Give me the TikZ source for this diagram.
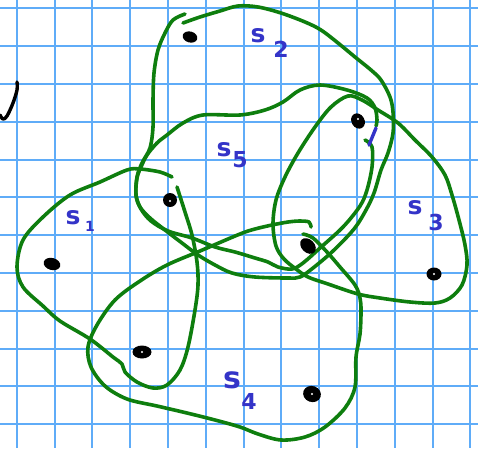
\documentclass[tikz,border=0pt]{standalone}
\usepackage{fontspec}
\newfontfamily\handfont{DejaVu Sans}
\definecolor{gridblue}{RGB}{95,172,248}
\definecolor{pengreen}{RGB}{14,126,14}
\definecolor{inkblue}{RGB}{52,52,200}
\begin{document}
\begin{tikzpicture}[x=1pt,y=-1pt,
  gridline/.style={gridblue,line width=2pt},
  hedge/.style={pengreen,line width=3.6pt,line cap=round,line join=round},
  inkline/.style={line width=3.4pt,line cap=round,line join=round},
  slab/.style={text=inkblue,font=\handfont\bfseries\fontsize{25}{25}\selectfont,inner sep=0pt},
  dlab/.style={text=inkblue,font=\handfont\bfseries\fontsize{22}{22}\selectfont,inner sep=0pt}]
\fill[white] (0,0) rectangle (478,448);
\useasboundingbox (0,0) rectangle (478,448);
% grid paper
\foreach \k in {0,...,12} \draw[gridline] ({16.7+37.8*\k},0) -- ({16.7+37.8*\k},448);
\foreach \k in {0,...,11} \draw[gridline] (0,{8.3+37.8*\k}) -- (478,{8.3+37.8*\k});
% V fragment
\draw[inkline,black] plot[smooth,tension=0.6] coordinates {(17,82) (17,90) (13,103) (7,116) (3,119) (0,115)};
% s1
\draw[hedge] plot[smooth,tension=0.55] coordinates {(172,177) (160,172) (140,169) (127,170) (100,182) (70,195) (43,217) (23,240) (17,267) (23,287) (43,306) (60,321) (90,339) (113,357) (122,364) (125,372) (137,382) (153,388) (167,385) (180,370) (188,347) (195,310) (198,285) (197,262) (192,235) (185,212) (177,187)};
% s4
\draw[hedge] plot[smooth,tension=0.55] coordinates {(311,227) (309,222) (300,221) (288,222) (272,225) (255,229) (240,234) (200,251) (167,265) (140,281) (115,300) (97,325) (88,347) (91,367) (105,386) (127,399) (157,406) (187,413) (215,420) (240,427) (258,434) (281,440) (305,437) (325,427) (345,408) (355,387) (356,357) (360,334) (361,311) (360,298) (355,285) (340,267) (327,252) (313,238) (303,234)};
% s2
\draw[hedge] plot[smooth,tension=0.55] coordinates {(183,23) (200,17) (220,11) (238,6) (258,7) (281,13) (305,22) (321,30) (338,43) (355,57) (371,70) (381,80) (390,97) (393,112) (393,133) (388,153) (381,170) (374,193) (366,210) (354,229) (333,251) (313,268) (300,277) (288,278) (255,277) (232,273) (215,265) (198,255) (182,243) (165,230) (150,218) (140,207) (136,195) (137,177) (142,163) (150,148) (153,127) (153,100) (154,73) (158,50) (165,33) (173,20) (185,14)};
% s5
\draw[hedge] plot[smooth,tension=0.55] coordinates {(365,140) (372,147) (372,167) (367,190) (360,206) (343,227) (320,248) (303,263) (292,269) (278,267) (268,262) (255,258) (235,252) (215,247) (192,238) (168,231) (151,221) (141,209) (136,195) (137,178) (141,167) (147,155) (157,143) (167,135) (183,123) (203,115) (240,115) (265,110) (283,102) (300,90) (320,85) (347,90) (367,98) (375,108) (377,120) (376,126)};
% s3
\draw[hedge] plot[smooth cycle,tension=0.55] coordinates {(348,96) (362,100) (378,110) (398,123) (415,140) (432,157) (445,175) (452,195) (459,220) (465,245) (467,265) (462,285) (450,298) (435,303) (410,302) (380,298) (358,294) (328,284) (308,277) (296,269) (284,259) (276,246) (273,224) (276,200) (285,177) (298,153) (315,127) (331,107)};
% blue stroke
\draw[inkline,inkblue] (376,128) -- (369,145);
% vertices
\fill[black,rotate around={-15:(190,37)}] (190,37) ellipse (7.5pt and 5.5pt);
\fill[black,rotate around={-60:(358,121)}] (358,121) ellipse (8pt and 6.5pt);
\fill[black] (170,200) circle (7pt);
\fill[black,rotate around={-15:(52,264)}] (52,264) ellipse (8.5pt and 6pt);
\fill[black,rotate around={-45:(308,246)}] (308,246) ellipse (9pt and 6.5pt);
\fill[black] (434,274) ellipse (7.5pt and 6.5pt);
\fill[black] (142,352) ellipse (9.5pt and 6.5pt);
\fill[black,rotate around={-20:(312,394)}] (312,394) ellipse (9pt and 8pt);
\foreach \p in {(170,201),(142,352),(312,394),(434,274),(358,119)} \fill[white] \p circle (1.2pt);
% labels
\node[slab] (s1s) at (73,218) {s};
\node[dlab,font=\handfont\bfseries\fontsize{14}{14}\selectfont] (s1d) at (90,226) {1};
\node[slab] (s2s) at (258,36) {s};
\node[dlab] (s2d) at (281,49) {2};
\node[slab] (s3s) at (415,208) {s};
\node[dlab] (s3d) at (436,222) {3};
\node[slab,font=\handfont\bfseries\fontsize{30}{30}\selectfont] (s4s) at (232,380) {s};
\node[dlab] (s4d) at (249,401) {4};
\node[slab] (s5s) at (224,150) {s};
\node[dlab] (s5d) at (240,160) {5};
\end{tikzpicture}
\end{document}
